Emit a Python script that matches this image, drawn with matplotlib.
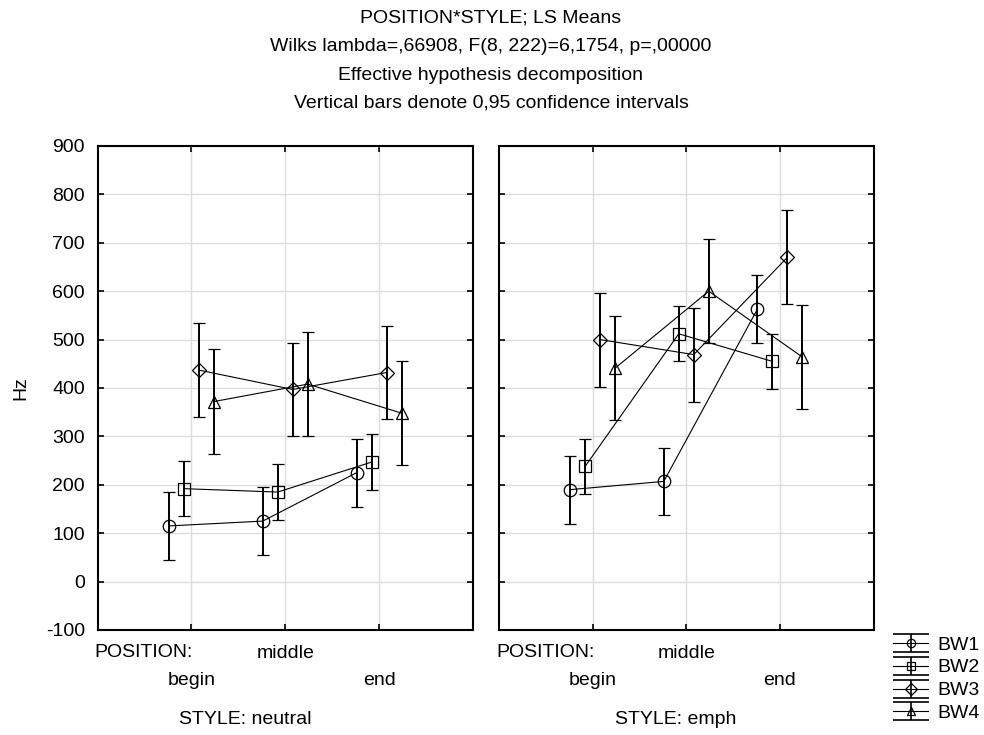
import numpy as np
import matplotlib
matplotlib.use("Agg")
import matplotlib.pyplot as plt
from matplotlib.path import Path
from matplotlib.lines import Line2D

plt.rcParams['font.family'] = ['Liberation Sans', 'DejaVu Sans']
plt.rcParams['axes.unicode_minus'] = False

positions = ['begin', 'middle', 'end']
groups = ['BW1', 'BW2', 'BW3', 'BW4']
markers = ['o', 's', 'D', '^']
msizes = [9, 9, 7, 9]

# LS means (Hz) and 0.95 CI half widths
neutral_means = {
    'BW1': [115, 125, 225],
    'BW2': [192, 185, 247],
    'BW3': [437, 397, 432],
    'BW4': [372, 408, 348],
}
emph_means = {
    'BW1': [190, 207, 563],
    'BW2': [238, 512, 455],
    'BW3': [500, 469, 670],
    'BW4': [441, 600, 464],
}
ci_half = {'BW1': 70, 'BW2': 57, 'BW3': 97, 'BW4': 108}

offsets = [-0.24, -0.08, 0.08, 0.24]
fs = 14

fig = plt.figure(figsize=(9.84, 7.35), dpi=100)
ax1 = fig.add_axes([97.5/984, 1-630/735, 375.5/984, 484/735])
ax2 = fig.add_axes([499/984, 1-630/735, 374.5/984, 484/735])

for ax, means, style, sx in [(ax1, neutral_means, 'neutral', 0.393),
                             (ax2, emph_means, 'emph', 0.473)]:
    x = np.arange(1, 4)
    for g, m, ms, off in zip(groups, markers, msizes, offsets):
        ax.errorbar(x + off, means[g], yerr=ci_half[g], color='black',
                    marker=m, ms=ms, mfc='none', mec='black', mew=0.9,
                    lw=0.8, elinewidth=1.4, capsize=4, capthick=1.4)
    ax.set_xlim(0, 4)
    ax.set_ylim(-100, 900)
    ax.set_yticks(np.arange(-100, 901, 100))
    # staggered position labels: begin/end on the lower row
    ax.set_xticks([1, 3], [positions[0], positions[2]])
    ax.set_xticks([2], [positions[1]], minor=True)
    ax.grid(True, which='both', axis='x', color='#dcdcdc', lw=1.0)
    ax.grid(True, axis='y', color='#dcdcdc', lw=1.0)
    ax.set_axisbelow(True)
    ax.tick_params(which='both', direction='in', length=4, width=1.2,
                   top=True, right=True, labelsize=fs, colors='black')
    ax.tick_params(axis='x', which='major', pad=30)
    ax.tick_params(axis='x', which='minor', pad=11)
    ax.tick_params(axis='y', pad=9)
    for s in ax.spines.values():
        s.set_linewidth(1.5)
    ax.text(-0.008, -0.0475, 'POSITION:', transform=ax.transAxes, ha='left',
            va='center', fontsize=fs)
    ax.text(sx, -0.184, 'STYLE: ' + style, transform=ax.transAxes,
            ha='center', va='center', fontsize=fs)

ax2.tick_params(labelleft=False)
ax1.set_ylabel('Hz', fontsize=fs)
ax1.yaxis.set_label_coords(-0.182, 0.5)

titles = ['POSITION*STYLE; LS Means',
          'Wilks lambda=,66908, F(8, 222)=6,1754, p=,00000',
          'Effective hypothesis decomposition',
          'Vertical bars denote 0,95 confidence intervals']
for i, t in enumerate(titles):
    fig.text(491/984, 1 - (18 + 28.5*i)/735, t, ha='center', va='center',
             fontsize=fs)

# legend symbol: wide error bar with caps
ibeam = Path([(-1, 0.5), (1, 0.5), (-1, -0.5), (1, -0.5), (0, 0.5), (0, -0.5)],
             [Path.MOVETO, Path.LINETO, Path.MOVETO, Path.LINETO,
              Path.MOVETO, Path.LINETO])
handles = []
for m in markers:
    ln = Line2D([0], [0], color='black', lw=0.8, marker=m, ms=6,
                mfc='none', mec='black', mew=0.9)
    bar = Line2D([0], [0], color='black', ls='none', marker=ibeam, ms=26,
                 mew=1.2)
    handles.append((ln, bar))

fig.legend(handles=handles, labels=groups, loc='upper left',
           bbox_to_anchor=(893/984, 1-636/735), frameon=False, fontsize=fs,
           handlelength=1.8, handletextpad=0.5, labelspacing=0.27,
           borderaxespad=0, borderpad=0)

fig.savefig('out.png', dpi=100)
